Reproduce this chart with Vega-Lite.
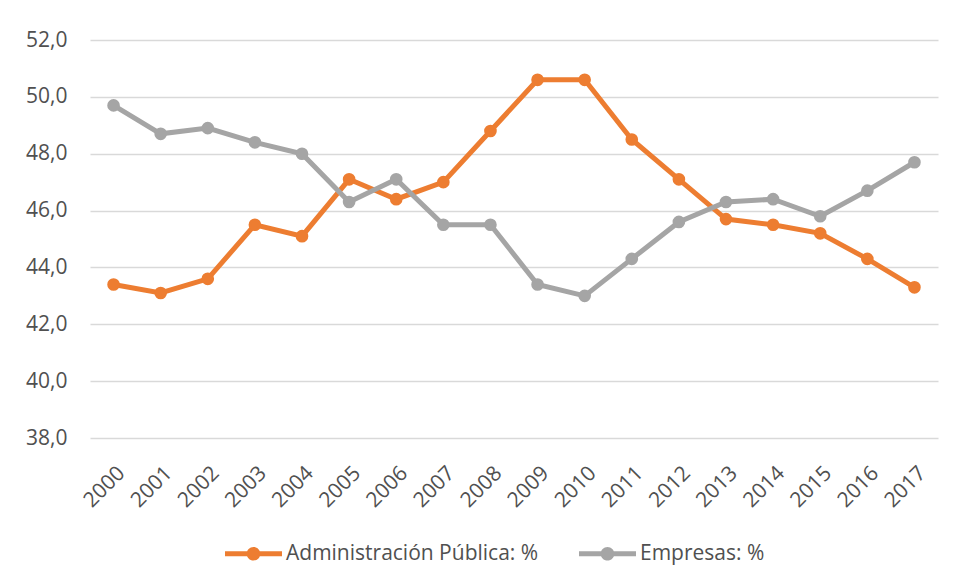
{
  "$schema": "https://vega.github.io/schema/vega-lite/v6.json",
  "width": 848,
  "height": 398,
  "autosize": {"type": "none"},
  "padding": {"left": 90, "top": 40, "right": 17, "bottom": 140},
  "background": "white",
  "config": {
    "font": "Open Sans",
    "view": {"stroke": null},
    "axis": {"labelColor": "#505050", "labelFont": "Open Sans", "gridColor": "#D9D9D9", "gridWidth": 1.5}
  },
  "data": {
    "values": [
      {"year": "2000", "serie": "Administración Pública: %", "v": 43.4},
      {"year": "2001", "serie": "Administración Pública: %", "v": 43.1},
      {"year": "2002", "serie": "Administración Pública: %", "v": 43.6},
      {"year": "2003", "serie": "Administración Pública: %", "v": 45.5},
      {"year": "2004", "serie": "Administración Pública: %", "v": 45.1},
      {"year": "2005", "serie": "Administración Pública: %", "v": 47.1},
      {"year": "2006", "serie": "Administración Pública: %", "v": 46.4},
      {"year": "2007", "serie": "Administración Pública: %", "v": 47.0},
      {"year": "2008", "serie": "Administración Pública: %", "v": 48.8},
      {"year": "2009", "serie": "Administración Pública: %", "v": 50.6},
      {"year": "2010", "serie": "Administración Pública: %", "v": 50.6},
      {"year": "2011", "serie": "Administración Pública: %", "v": 48.5},
      {"year": "2012", "serie": "Administración Pública: %", "v": 47.1},
      {"year": "2013", "serie": "Administración Pública: %", "v": 45.7},
      {"year": "2014", "serie": "Administración Pública: %", "v": 45.5},
      {"year": "2015", "serie": "Administración Pública: %", "v": 45.2},
      {"year": "2016", "serie": "Administración Pública: %", "v": 44.3},
      {"year": "2017", "serie": "Administración Pública: %", "v": 43.3},
      {"year": "2000", "serie": "Empresas: %", "v": 49.7},
      {"year": "2001", "serie": "Empresas: %", "v": 48.7},
      {"year": "2002", "serie": "Empresas: %", "v": 48.9},
      {"year": "2003", "serie": "Empresas: %", "v": 48.4},
      {"year": "2004", "serie": "Empresas: %", "v": 48.0},
      {"year": "2005", "serie": "Empresas: %", "v": 46.3},
      {"year": "2006", "serie": "Empresas: %", "v": 47.1},
      {"year": "2007", "serie": "Empresas: %", "v": 45.5},
      {"year": "2008", "serie": "Empresas: %", "v": 45.5},
      {"year": "2009", "serie": "Empresas: %", "v": 43.4},
      {"year": "2010", "serie": "Empresas: %", "v": 43.0},
      {"year": "2011", "serie": "Empresas: %", "v": 44.3},
      {"year": "2012", "serie": "Empresas: %", "v": 45.6},
      {"year": "2013", "serie": "Empresas: %", "v": 46.3},
      {"year": "2014", "serie": "Empresas: %", "v": 46.4},
      {"year": "2015", "serie": "Empresas: %", "v": 45.8},
      {"year": "2016", "serie": "Empresas: %", "v": 46.7},
      {"year": "2017", "serie": "Empresas: %", "v": 47.7}
    ]
  },
  "encoding": {
    "x": {
      "field": "year", "type": "ordinal",
      "scale": {"type": "point", "padding": 0.5},
      "axis": {"title": null, "labelAngle": -45, "labelFontSize": 21, "domain": false, "ticks": false, "grid": false, "labelPadding": 24}
    },
    "y": {
      "field": "v", "type": "quantitative",
      "scale": {"domain": [38, 52], "zero": false, "nice": false},
      "axis": {"title": null, "values": [38, 40, 42, 44, 46, 48, 50, 52], "labelExpr": "replace(format(datum.value, '.1f'), '.', ',')", "labelFontSize": 21, "domain": false, "ticks": false, "labelPadding": 23}
    },
    "color": {
      "field": "serie", "type": "nominal",
      "scale": {"domain": ["Administración Pública: %", "Empresas: %"], "range": ["#ED7D31", "#A5A5A5"]},
      "legend": {
        "title": null, "orient": "none", "direction": "horizontal",
        "legendX": 135, "legendY": 485,
        "labelFontSize": 21, "labelColor": "#505050", "labelFont": "Open Sans", "labelLimit": 500,
        "labelOffset": 4, "columnPadding": 40,
        "symbolType": "M-1,-0.088 L1,-0.088 L1,0.088 L-1,0.088 Z M0.24,0 A0.24,0.24 0 1,1 -0.24,0 A0.24,0.24 0 1,1 0.24,0 Z",
        "symbolSize": 3249, "symbolStrokeWidth": 0,
        "encode": {"symbols": {"update": {"fill": {"scale": "color", "field": "value"}, "strokeWidth": {"value": 0}}}}
      }
    }
  },
  "layer": [
    {"mark": {"type": "line", "strokeWidth": 5}},
    {"mark": {"type": "point", "filled": true, "size": 160, "opacity": 1}}
  ]
}
